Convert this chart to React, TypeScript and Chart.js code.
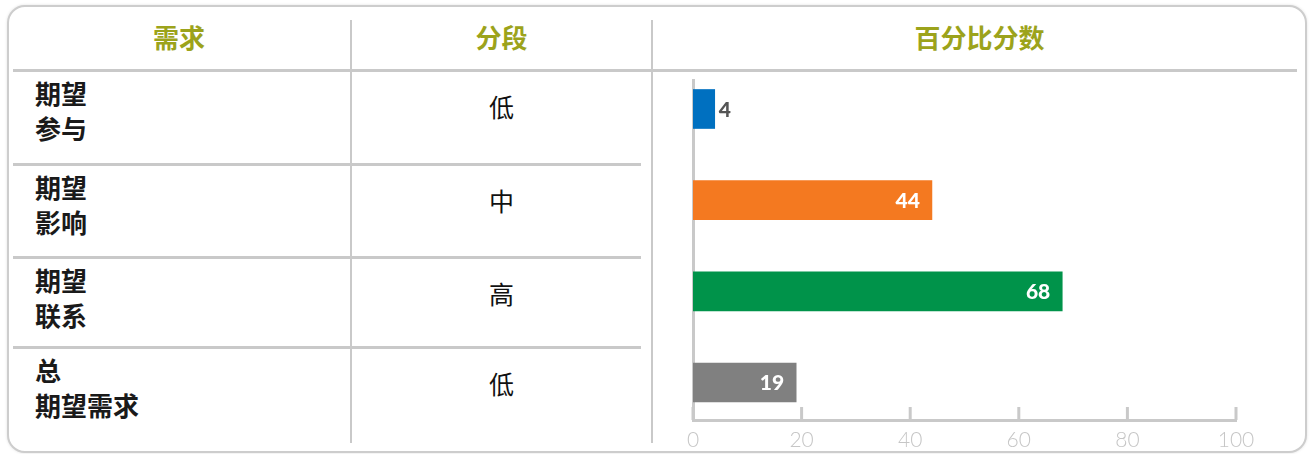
import React, { useEffect, useRef } from "react";
import { Chart, registerables } from "chart.js";

Chart.register(...registerables);

const headers = ["需求", "分段", "百分比分数"];
const needLabels = [["期望", "参与"], ["期望", "影响"], ["期望", "联系"], ["总", "期望需求"]];
const segments = ["低", "中", "高", "低"];
const scores = [4, 44, 68, 19];
const barColors = ["#0070c0", "#f47920", "#00934a", "#808080"];
const xTicks = [0, 20, 40, 60, 80, 100];

const HEADER_COLOR = "#9ca31b";
const LINE = "#c9c9c9";
const CJK = '"Noto Sans CJK SC", "Noto Sans", sans-serif';
const NUM = 'Lato, "Open Sans", sans-serif';

const rowTops = [70, 164, 257, 347];

const tickMarks = {
  id: "tickMarks",
  afterDatasetsDraw(chart: any) {
    const x = chart.scales.x;
    const ctx = chart.ctx;
    const bottom = chart.chartArea.bottom;
    ctx.save();
    ctx.strokeStyle = LINE;
    ctx.lineWidth = 3;
    xTicks.forEach((v) => {
      const px = x.getPixelForValue(v);
      ctx.beginPath();
      ctx.moveTo(px, bottom - 13);
      ctx.lineTo(px, bottom);
      ctx.stroke();
    });
    ctx.restore();
  },
};

const valueLabels = {
  id: "valueLabels",
  afterDatasetsDraw(chart: any) {
    const ctx = chart.ctx;
    const meta = chart.getDatasetMeta(0);
    ctx.save();
    ctx.font = "900 21px " + NUM;
    ctx.textBaseline = "middle";
    meta.data.forEach((bar: any, i: number) => {
      const v = scores[i];
      const txt = String(v);
      const w = ctx.measureText(txt).width;
      const barW = bar.x - bar.base;
      if (barW < w + 20) {
        ctx.fillStyle = "#555555";
        ctx.textAlign = "left";
        ctx.fillText(txt, bar.x + 4, bar.y + 1);
      } else {
        ctx.fillStyle = "#ffffff";
        ctx.textAlign = "right";
        ctx.fillText(txt, bar.x - 12, bar.y + 1);
      }
    });
    ctx.restore();
  },
};

function BarChart() {
  const ref = useRef<HTMLCanvasElement>(null);
  useEffect(() => {
    if (!ref.current) return;
    const chart = new Chart(ref.current, {
      type: "bar",
      data: {
        datasets: [
          {
            data: scores.map((v, i) => ({ x: v, y: i })),
            backgroundColor: barColors,
            borderWidth: 0,
            barThickness: 39,
          },
        ],
      },
      options: {
        indexAxis: "y",
        responsive: false,
        animation: false,
        events: [],
        layout: { padding: { left: 33, right: 44, top: 8, bottom: 0 } },
        plugins: { legend: { display: false }, tooltip: { enabled: false } },
        scales: {
          x: {
            type: "linear",
            min: 0,
            max: 100,
            offset: false,
            afterBuildTicks: (s: any) => {
              s.ticks = xTicks.map((v) => ({ value: v }));
            },
            afterFit: (s: any) => {
              s.height = 32;
            },
            grid: { display: false, drawTicks: false },
            border: { display: true, color: LINE, width: 3 },
            ticks: {
              color: "#c6c6c6",
              padding: 8,
              font: { family: NUM, size: 21, weight: "300" },
              maxRotation: 0,
            },
          },
          y: {
            type: "linear",
            reverse: true,
            offset: false,
            min: -0.318,
            max: 3.411,
            afterFit: (s: any) => {
              s.width = 0;
            },
            grid: { display: false, drawTicks: false, offset: false },
            border: { display: true, color: LINE, width: 3 },
            ticks: { display: false },
          },
        },
      },
      plugins: [tickMarks, valueLabels],
    } as any);
    return () => chart.destroy();
  }, []);
  return (
    <canvas
      ref={ref}
      width={620}
      height={380}
      style={{ position: "absolute", left: 660, top: 72, width: 620, height: 380 }}
    />
  );
}

export default function App() {
  const abs = (s: any) => ({ position: "absolute", ...s });
  return (
    <div style={{ position: "absolute", left: 0, top: 0, width: 1310, height: 454, background: "#fff", overflow: "hidden" }}>
      <div
        style={abs({
          left: 7,
          top: 5,
          width: 1300,
          height: 448,
          boxSizing: "border-box",
          border: "2px solid #cdcdcd",
          borderRadius: 18,
          boxShadow: "0 0 3px rgba(0,0,0,0.12)",
          background: "#fff",
        })}
      />
      {[
        [7, 351],
        [351, 652],
        [652, 1307],
      ].map(([l, r], i) => (
        <div
          key={"h" + i}
          style={abs({
            left: l,
            width: r - l,
            top: 20,
            height: 34,
            lineHeight: "34px",
            textAlign: "center",
            fontFamily: CJK,
            fontWeight: 700,
            fontSize: 26,
            color: HEADER_COLOR,
          })}
        >
          {headers[i]}
        </div>
      ))}
      <div style={abs({ left: 13, top: 69, width: 1284, height: 3, background: LINE })} />
      {rowTops.slice(1).map((t, i) => (
        <div key={"r" + i} style={abs({ left: 13, top: t - 1, width: 628, height: 3, background: LINE })} />
      ))}
      <div style={abs({ left: 350, top: 20, width: 2, height: 423, background: LINE })} />
      <div style={abs({ left: 651, top: 20, width: 2, height: 423, background: LINE })} />
      {needLabels.map((lines, i) => (
        <div
          key={"n" + i}
          style={abs({
            left: 35,
            top: rowTops[i] + 5,
            fontFamily: CJK,
            fontWeight: 700,
            fontSize: 26,
            lineHeight: "35px",
            color: "#1a1a1a",
          })}
        >
          {lines.map((l, j) => (
            <div key={j}>{l}</div>
          ))}
        </div>
      ))}
      {segments.map((s, i) => (
        <div
          key={"s" + i}
          style={abs({
            left: 351,
            width: 301,
            top: rowTops[i] + 36 - 17,
            height: 34,
            lineHeight: "34px",
            textAlign: "center",
            fontFamily: CJK,
            fontWeight: 400,
            fontSize: 25,
            color: "#111",
          })}
        >
          {s}
        </div>
      ))}
      <BarChart />
    </div>
  );
}
